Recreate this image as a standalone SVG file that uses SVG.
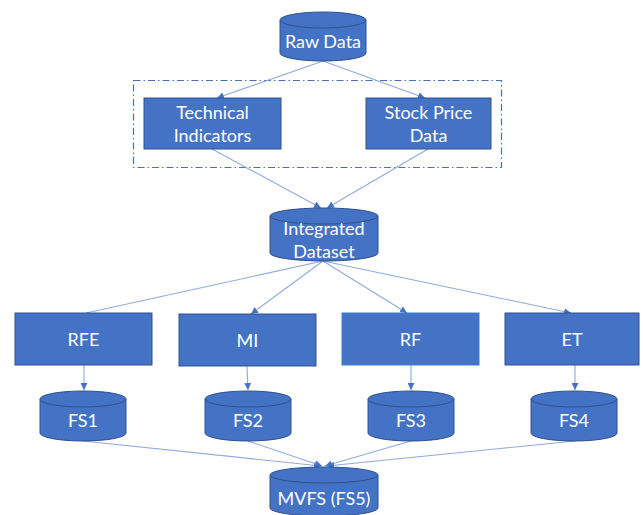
<svg xmlns="http://www.w3.org/2000/svg" width="643" height="515" viewBox="0 0 643 515">
  <style>
    .box { fill: #4472C4; stroke: #2F528F; stroke-width: 1; }
    .cyl { fill: #4472C4; stroke: #2F528F; stroke-width: 1; }
    .rim { fill: none; stroke: #2F528F; stroke-width: 1; }
    .lbl { font-family: Lato, "Liberation Sans", sans-serif; font-size: 18px; fill: #FFFFFF; text-anchor: middle; }
    .edge { fill: none; stroke: #8FAADC; stroke-width: 1.1; }
    .group { fill: none; stroke: #4A6FB5; stroke-width: 1.2; stroke-dasharray: 7 3 1.5 3; }
  </style>
  <defs>
    <marker id="tip" viewBox="0 0 8 8" refX="8" refY="4" markerWidth="7" markerHeight="7" markerUnits="userSpaceOnUse" orient="auto">
      <path d="M0,0 L8,4 L0,8 Z" fill="#4472C4"/>
    </marker>
  </defs>

  <!-- grouping frame around the two source nodes -->
  <rect class="group" x="133.5" y="80.5" width="368" height="87"/>

  <g id="connectors">
    <line class="edge" x1="323" y1="61" x2="217" y2="98" marker-end="url(#tip)"/>
    <line class="edge" x1="323" y1="61" x2="425" y2="98" marker-end="url(#tip)"/>
    <line class="edge" x1="212" y1="149" x2="321" y2="208" marker-end="url(#tip)"/>
    <line class="edge" x1="428" y1="149" x2="327" y2="208" marker-end="url(#tip)"/>
    <line class="edge" x1="323" y1="261" x2="86" y2="313"/>
    <line class="edge" x1="323" y1="261" x2="251" y2="314" marker-end="url(#tip)"/>
    <line class="edge" x1="323" y1="261" x2="407" y2="313" marker-end="url(#tip)"/>
    <line class="edge" x1="323" y1="261" x2="571" y2="313" marker-end="url(#tip)"/>
    <line class="edge" x1="84" y1="365" x2="84" y2="390" marker-end="url(#tip)"/>
    <line class="edge" x1="247" y1="366" x2="248" y2="390" marker-end="url(#tip)"/>
    <line class="edge" x1="411" y1="365" x2="411" y2="390" marker-end="url(#tip)"/>
    <line class="edge" x1="575" y1="365" x2="575" y2="390" marker-end="url(#tip)"/>
    <line class="edge" x1="83" y1="441" x2="321" y2="466" marker-end="url(#tip)"/>
    <line class="edge" x1="248" y1="441" x2="322" y2="466" marker-end="url(#tip)"/>
    <line class="edge" x1="411" y1="441" x2="325" y2="466" marker-end="url(#tip)"/>
    <line class="edge" x1="575" y1="441" x2="327" y2="466" marker-end="url(#tip)"/>
  </g>

  <g id="raw-data">
    <path class="cyl" d="M280,20 A43,8 0 0 1 366,20 V53 A43,8 0 0 1 280,53 Z"/>
    <path class="rim" d="M280,20 A43,8 0 0 0 366,20"/>
    <text class="lbl" x="323" y="48">Raw Data</text>
  </g>

  <g id="technical-indicators">
    <rect class="box" x="144" y="98" width="137" height="51"/>
    <text class="lbl" x="212.5" y="119">Technical</text>
    <text class="lbl" x="212.5" y="142">Indicators</text>
  </g>

  <g id="stock-price-data">
    <rect class="box" x="366" y="98" width="125" height="51"/>
    <text class="lbl" x="428.5" y="119">Stock Price</text>
    <text class="lbl" x="428.5" y="142">Data</text>
  </g>

  <g id="integrated-dataset">
    <path class="cyl" d="M270,216 A54,8 0 0 1 378,216 V253 A54,8 0 0 1 270,253 Z"/>
    <path class="rim" d="M270,216 A54,8 0 0 0 378,216"/>
    <text class="lbl" x="324" y="235">Integrated</text>
    <text class="lbl" x="324" y="258">Dataset</text>
  </g>

  <g id="rfe">
    <rect class="box" x="15" y="313" width="137" height="52"/>
    <text class="lbl" x="83.5" y="346">RFE</text>
  </g>
  <g id="mi">
    <rect class="box" x="179" y="314" width="137" height="52"/>
    <text class="lbl" x="247.5" y="347">MI</text>
  </g>
  <g id="rf">
    <rect class="box" x="342" y="313" width="137" height="52" style="stroke:#3B7FD0"/>
    <text class="lbl" x="410.5" y="346">RF</text>
  </g>
  <g id="et">
    <rect class="box" x="505" y="313" width="134" height="52"/>
    <text class="lbl" x="572" y="346">ET</text>
  </g>

  <g id="fs1">
    <path class="cyl" d="M40,399 A43,8 0 0 1 126,399 V433 A43,8 0 0 1 40,433 Z"/>
    <path class="rim" d="M40,399 A43,8 0 0 0 126,399"/>
    <text class="lbl" x="83" y="427">FS1</text>
  </g>
  <g id="fs2">
    <path class="cyl" d="M205,399 A43,8 0 0 1 291,399 V433 A43,8 0 0 1 205,433 Z"/>
    <path class="rim" d="M205,399 A43,8 0 0 0 291,399"/>
    <text class="lbl" x="248" y="427">FS2</text>
  </g>
  <g id="fs3">
    <path class="cyl" d="M368,399 A43,8 0 0 1 454,399 V433 A43,8 0 0 1 368,433 Z"/>
    <path class="rim" d="M368,399 A43,8 0 0 0 454,399"/>
    <text class="lbl" x="411" y="427">FS3</text>
  </g>
  <g id="fs4">
    <path class="cyl" d="M531,399 A43,8 0 0 1 617,399 V433 A43,8 0 0 1 531,433 Z"/>
    <path class="rim" d="M531,399 A43,8 0 0 0 617,399"/>
    <text class="lbl" x="574" y="427">FS4</text>
  </g>

  <g id="mvfs">
    <path class="cyl" d="M270,475 A54,8 0 0 1 378,475 V508 A54,8 0 0 1 270,508 Z"/>
    <path class="rim" d="M270,475 A54,8 0 0 0 378,475"/>
    <text class="lbl" x="324" y="505">MVFS (FS5)</text>
  </g>
</svg>
